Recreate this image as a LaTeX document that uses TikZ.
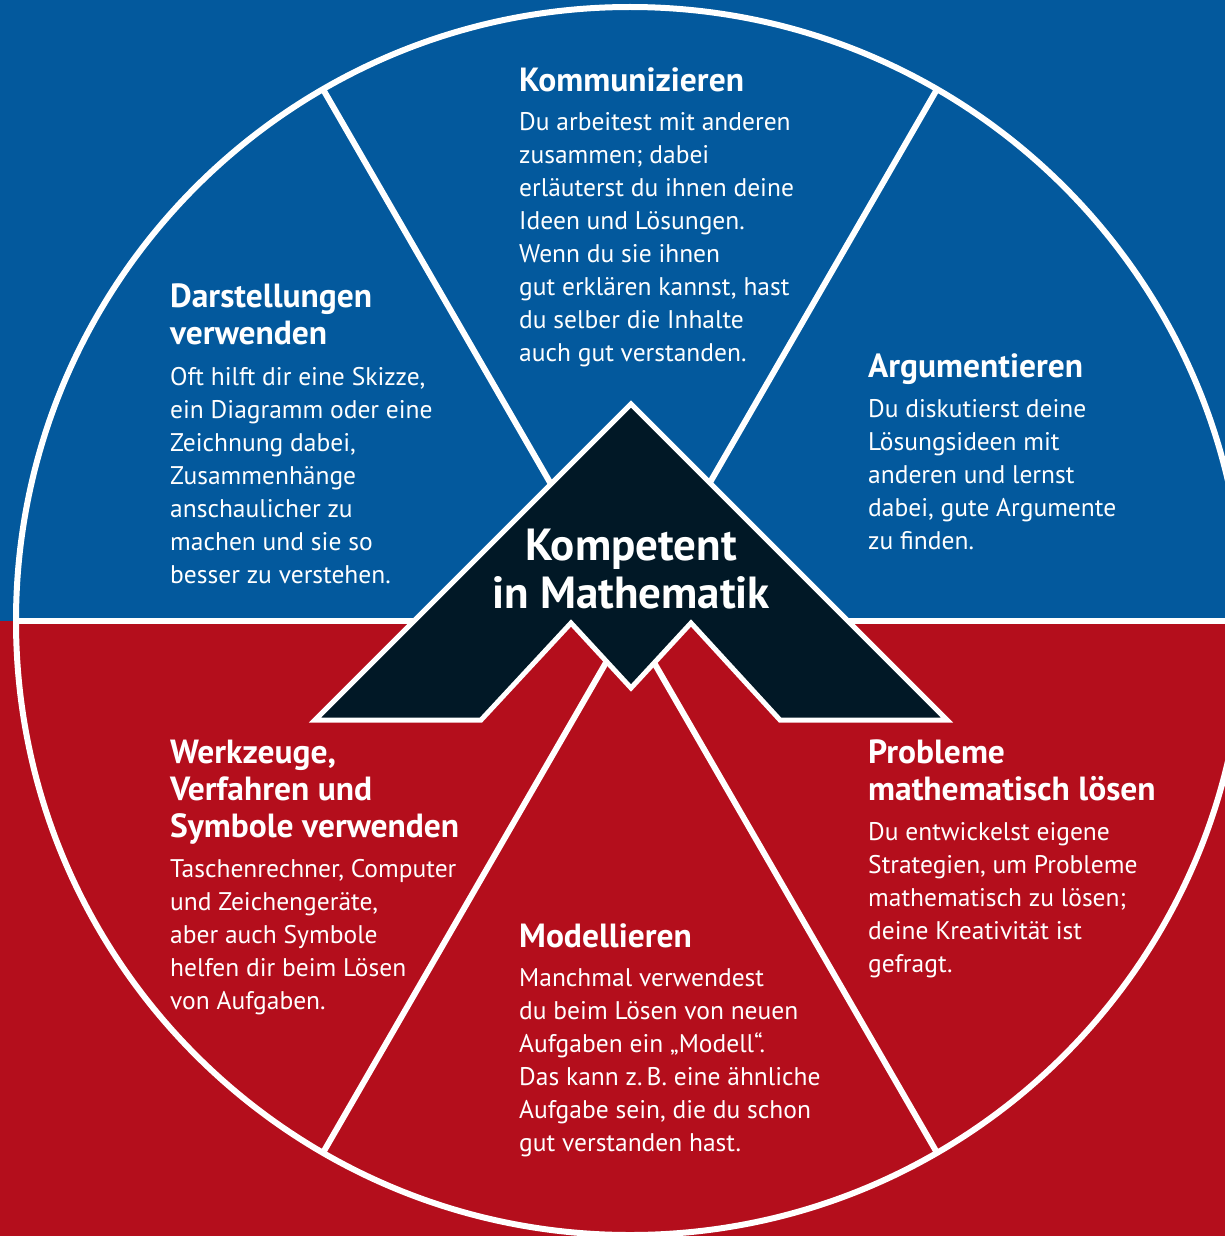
\documentclass[tikz,border=0pt]{standalone}
\usepackage{fontspec}
\setmainfont{PT Sans}
\usepackage{xcolor}
\definecolor{WheelBlue}{HTML}{03599D}
\definecolor{WheelRed}{HTML}{B40E1C}
\definecolor{CoreNavy}{HTML}{011826}
\usepackage{tikz}
\tikzset{
  % Text styles
  headtext/.style={anchor=north west, inner sep=0pt, text=white, align=left, font=\bfseries\fontsize{33.5}{37}\selectfont},
  bodytext/.style={anchor=north west, inner sep=0pt, text=white, align=left, font=\fontsize{25.5}{33}\selectfont},
  coretext/.style={inner sep=0pt, text=white, align=center, font=\bfseries\fontsize{45}{48}\selectfont},
  % Line styles
  divider/.style={white, line width=6pt},
  coreshape/.style={fill=CoreNavy, draw=white, line width=5pt, line join=miter}
}

\begin{document}
\begin{tikzpicture}[x=1pt, y=-1pt]
  % Page and the two halves
  \useasboundingbox (0,0) rectangle (1225,1236);
  \fill[WheelBlue] (0,0) rectangle (1225,621);
  \fill[WheelRed] (0,621) rectangle (1225,1236);

  % Wheel and dividers
  \coordinate (hub) at (630,621);
  \draw[divider] (hub) circle (614pt);
  \draw[divider] (16,621) -- (1244,621);
  \foreach \a in {60,120,240,300}
    \draw[divider] (hub) -- ++(\a:614pt);

  % Centre
  \draw[coreshape] (631,404) -- (947,720) -- (780,720) -- (691,623) -- (631,688)
    -- (571,623) -- (481,720) -- (315,720) -- cycle;
  \node[coretext] (core) at (631,569) {Kompetent\\in Mathematik};

  % Upper sectors
  \node[headtext] (kommhead) at (519,67) {Kommunizieren};
  \node[bodytext] (kommbody) at (519,112) {Du arbeitest mit anderen\\zusammen; dabei\\erläuterst du ihnen deine\\Ideen und Lösungen.\\Wenn du sie ihnen\\gut erklären kannst, hast\\du selber die Inhalte\\auch gut verstanden.};

  \node[headtext] (darshead) at (170,284) {Darstellungen\\verwenden};
  \node[bodytext] (darsbody) at (170,367) {Oft hilft dir eine Skizze,\\ein Diagramm oder eine\\Zeichnung dabei,\\Zusammenhänge\\anschaulicher zu\\machen und sie so\\besser zu verstehen.};

  \node[headtext] (arguhead) at (868,353) {Argumentieren};
  \node[bodytext] (argubody) at (868,399) {Du diskutierst deine\\Lösungsideen mit\\anderen und lernst\\dabei, gute Argumente\\zu finden.};

  % Lower sectors
  \node[headtext] (werkhead) at (170,740) {Werkzeuge,\\Verfahren und\\Symbole verwenden};
  \node[bodytext] (werkbody) at (170,859) {Taschenrechner, Computer\\und Zeichengeräte,\\aber auch Symbole\\helfen dir beim Lösen\\von Aufgaben.};

  \node[headtext] (modehead) at (519,923) {Modellieren};
  \node[bodytext] (modebody) at (519,968) {Manchmal verwendest\\du beim Lösen von neuen\\Aufgaben ein „Modell“.\\Das kann z.\,B. eine ähnliche\\Aufgabe sein, die du schon\\gut verstanden hast.};

  \node[headtext] (probhead) at (868,740) {Probleme\\mathematisch lösen};
  \node[bodytext] (probbody) at (868,822) {Du entwickelst eigene\\Strategien, um Probleme\\mathematisch zu lösen;\\deine Kreativität ist\\gefragt.};
\end{tikzpicture}
\end{document}
